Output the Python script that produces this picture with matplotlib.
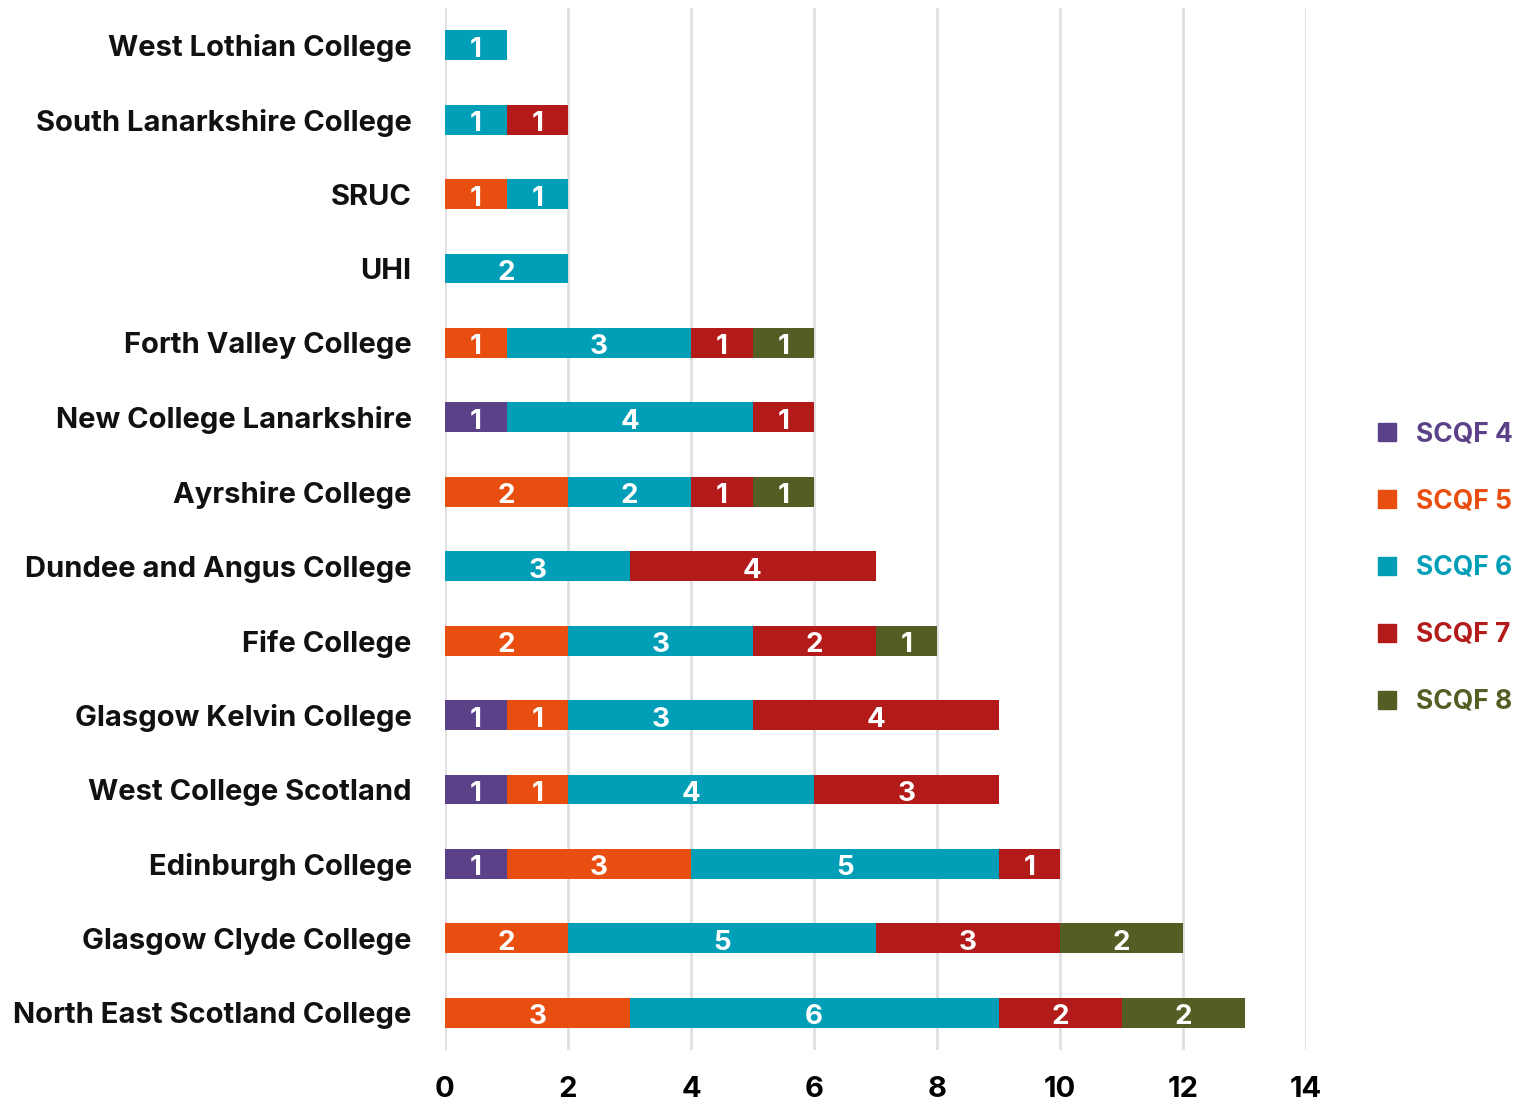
import numpy as np
import matplotlib.pyplot as plt
from matplotlib.lines import Line2D

# colleges, top to bottom as shown
colleges = ["West Lothian College", "South Lanarkshire College", "SRUC", "UHI",
            "Forth Valley College", "New College Lanarkshire", "Ayrshire College",
            "Dundee and Angus College", "Fife College", "Glasgow Kelvin College",
            "West College Scotland", "Edinburgh College", "Glasgow Clyde College",
            "North East Scotland College"]
levels = ["SCQF 4", "SCQF 5", "SCQF 6", "SCQF 7", "SCQF 8"]
scqf4 = [0, 0, 0, 0, 0, 1, 0, 0, 0, 1, 1, 1, 0, 0]
scqf5 = [0, 0, 1, 0, 1, 0, 2, 0, 2, 1, 1, 3, 2, 3]
scqf6 = [1, 1, 1, 2, 3, 4, 2, 3, 3, 3, 4, 5, 5, 6]
scqf7 = [0, 1, 0, 0, 1, 1, 1, 4, 2, 4, 3, 1, 3, 2]
scqf8 = [0, 0, 0, 0, 1, 0, 1, 0, 1, 0, 0, 0, 2, 2]
colors = ["#5a4188", "#e84e0f", "#009fb7", "#b31a1a", "#545e24"]

plt.rcParams['font.family'] = ['Inter', 'DejaVu Sans']

fig = plt.figure(figsize=(15.2, 11.05), dpi=100)
ax = fig.add_axes([445/1520, 1-1050/1105, (1306-445)/1520, 1042/1105])

y = np.arange(len(colleges))
left = np.zeros(len(colleges))
for vals, col, lab in zip([scqf4, scqf5, scqf6, scqf7, scqf8], colors, levels):
    vals = np.array(vals)
    ax.barh(y, vals, left=left, height=0.4, color=col, label=lab, zorder=3)
    for yi, (l, v) in enumerate(zip(left, vals)):
        if v > 0:
            ax.text(l + v/2, yi + 0.06, str(v), ha='center', va='center',
                    color='white', fontsize=20, fontweight='bold', zorder=4)
    left = left + vals

ax.set_ylim(len(colleges) - 0.5, -0.5)
ax.set_xlim(0, 14)
ax.set_xticks(range(0, 15, 2))
ax.set_yticks(y)
ax.set_yticklabels(colleges, fontsize=21, fontweight='bold', color='#111111')
ax.tick_params(axis='y', length=0, pad=24)
ax.tick_params(axis='x', length=0, pad=19, labelsize=21)
for t in ax.get_xticklabels():
    t.set_fontweight('bold')
ax.grid(axis='x', color='#e0e0e0', linewidth=2, zorder=0)
for s in ax.spines.values():
    s.set_visible(False)

handles = [Line2D([], [], marker='s', linestyle='none', markersize=13, color=c) for c in colors]
leg = fig.legend(handles, levels, loc='center left', bbox_to_anchor=(1350/1520, 1-568/1105),
                 frameon=False, fontsize=19, labelspacing=1.55, handletextpad=0.6,
                 handlelength=1.0)
for t, c in zip(leg.get_texts(), colors):
    t.set_color(c)
    t.set_fontweight('bold')

fig.savefig("out.png", dpi=100)
